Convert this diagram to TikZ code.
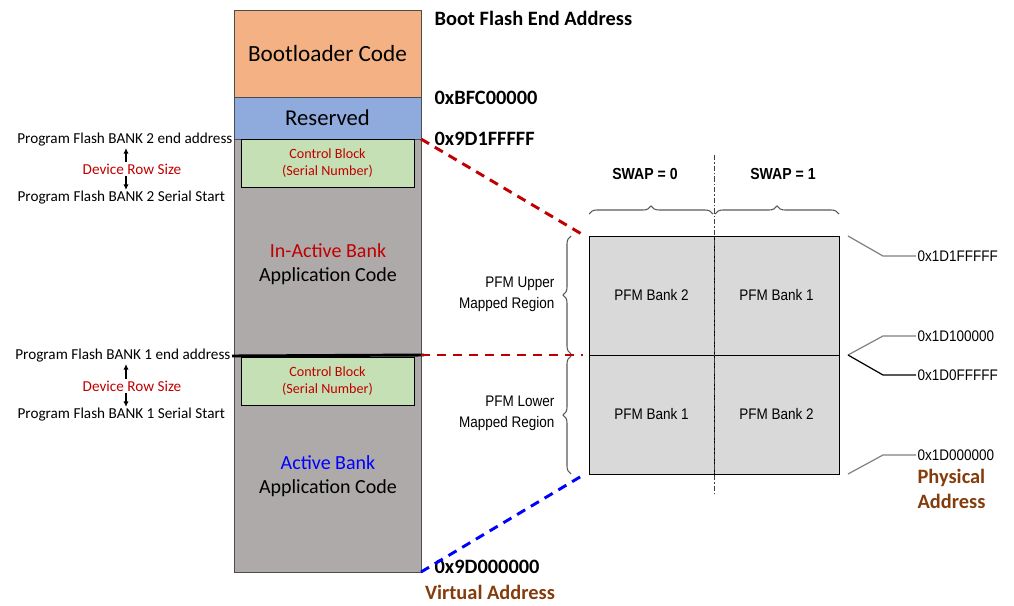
\documentclass[tikz,border=0pt]{standalone}
\usepackage{fontspec}
\setmainfont{Carlito}
\newfontfamily\narrowfont[FakeStretch=0.88]{Liberation Sans}
\usetikzlibrary{positioning,arrows.meta,decorations.pathreplacing}
\newdimen\px \px=0.75pt
\definecolor{bootorange}{HTML}{F4B183}
\definecolor{rsvdblue}{HTML}{8FAADC}
\definecolor{bankgray}{HTML}{AEAAAA}
\definecolor{ctrlgreen}{HTML}{C5E0B4}
\definecolor{cellgray}{HTML}{D9D9D9}
\definecolor{flashred}{HTML}{C00000}
\definecolor{flashblue}{HTML}{0000FF}
\definecolor{addrbrown}{HTML}{843C0C}
\tikzset{
  memblk/.style={rectangle, draw=gray!60!black, minimum width=187\px, inner sep=0pt, outer sep=0pt},
  ctrlblk/.style={rectangle, draw=black, fill=ctrlgreen, minimum width=173\px, minimum height=48\px,
    align=center, text=flashred, font=\fontsize{10.6}{13}\selectfont},
  sidelbl/.style={font=\fontsize{11.4}{13}\selectfont, inner sep=1pt},
  rowlbl/.style={sidelbl, text=flashred},
  banktxt/.style={align=center, font=\fontsize{15}{18}\selectfont},
  addrlbl/.style={font=\bfseries\fontsize{15.3}{18}\selectfont, anchor=west, inner sep=1pt},
  brownlbl/.style={font=\bfseries\fontsize{15.3}{18.5}\selectfont, text=addrbrown},
  cell/.style={rectangle, draw=black, fill=cellgray, minimum width=125\px, minimum height=119\px,
    outer sep=0pt, font=\narrowfont\fontsize{11.5}{14}\selectfont},
  pfm/.style={font=\narrowfont\fontsize{11.5}{15.5}\selectfont, align=right, anchor=east, inner sep=1pt},
  phys/.style={font=\narrowfont\fontsize{11.5}{14}\selectfont, anchor=west, inner sep=1pt},
  swaplbl/.style={font=\narrowfont\bfseries\fontsize{12}{14}\selectfont},
  callout/.style={draw=gray, line width=0.9pt},
  mapline/.style={line width=2.2pt, dash pattern=on 7pt off 5pt},
  brc/.style={decorate, decoration={brace, amplitude=6pt}, draw=gray!70!black, line width=0.8pt},
  rowarrow/.style={-{Latex[length=4pt,width=4pt]}, line width=0.8pt}
}
\begin{document}
\begin{tikzpicture}[x=0.75pt, y=-0.75pt]
\useasboundingbox (0,0) rectangle (1014,606);

% flash column
\node[memblk, fill=bootorange, minimum height=87\px, font=\fontsize{17.4}{20}\selectfont] (boot) at (327.5,53.5) {Bootloader Code};
\node[memblk, fill=rsvdblue, minimum height=42\px, below=0pt of boot, font=\fontsize{17}{20}\selectfont] (rsvd) {Reserved};
\node[memblk, fill=bankgray, minimum height=216\px, below=0pt of rsvd] (inact) {};
\node[memblk, fill=bankgray, minimum height=217\px, below=0pt of inact] (act) {};
\node[ctrlblk, below=0pt of rsvd] (ctrltwo) {Control Block\\(Serial Number)};
\node[ctrlblk, below=2\px of inact] (ctrlone) {Control Block\\(Serial Number)};
\node[banktxt] (inacttxt) at (328,264) {\textcolor{flashred}{In-Active Bank}\\Application Code};
\node[banktxt] (acttxt) at (328,476) {\textcolor{flashblue}{Active Bank}\\Application Code};

% bank labels on the left
\node[sidelbl, anchor=east] (twoend) at (234,140) {Program Flash BANK 2 end address};
\node[rowlbl] (rowtwo) at (132,169) {Device Row Size};
\node[sidelbl, anchor=west] (twostart) at (16,198) {Program Flash BANK 2 Serial Start};
\node[sidelbl, anchor=east] (oneend) at (232,356) {Program Flash BANK 1 end address};
\node[rowlbl] (rowone) at (132,386) {Device Row Size};
\node[sidelbl, anchor=west] (onestart) at (16,415) {Program Flash BANK 1 Serial Start};
\draw[rowarrow] ([xshift=-6\px]rowtwo.north) -- ([xshift=-6\px]twoend.south -| rowtwo.north);
\draw[rowarrow] ([xshift=-6\px]rowtwo.south) -- ([xshift=-6\px]twostart.north -| rowtwo.south);
\draw[rowarrow] ([xshift=-6\px]rowone.north) -- ([xshift=-6\px]oneend.south -| rowone.north);
\draw[rowarrow] ([xshift=-6\px]rowone.south) -- ([xshift=-6\px]onestart.north -| rowone.south);
\draw[line width=2.2pt] (oneend.east) -- ([xshift=3\px]act.north east);

% virtual addresses
\node[addrlbl] (bootend) at (433,18) {Boot Flash End Address};
\node[addrlbl] (bfc) at (433,98) {0xBFC00000};
\node[addrlbl] (vtop) at (433,139) {0x9D1FFFFF};
\node[addrlbl] (vbot) at (433,567) {0x9D000000};
\node[brownlbl] (virt) at (490,592) {Virtual Address};

% physical map
\node[cell] (ul) at (651.5,295.5) {PFM Bank 2};
\node[cell] (ur) at (776.5,295.5) {PFM Bank 1};
\node[cell] (ll) at (651.5,414.5) {PFM Bank 1};
\node[cell] (lr) at (776.5,414.5) {PFM Bank 2};
\coordinate (swtop) at (714,155);
\coordinate (swbot) at (714,495);
\draw[dash pattern=on 4pt off 1.5pt on 1pt off 1.5pt, gray!50!black, line width=0.6pt] (swtop) -- (swbot);

\node[swaplbl] (swapzero) at (645,174) {SWAP = 0};
\node[swaplbl] (swapone) at (783,174) {SWAP = 1};
\draw[brc] ([yshift=22\px]ul.north west) -- ([yshift=22\px,xshift=-1\px]ul.north east);
\draw[brc] ([yshift=22\px,xshift=1\px]ur.north west) -- ([yshift=22\px]ur.north east);
\draw[brc] ([xshift=-18\px,yshift=1\px]ul.south west) -- ([xshift=-18\px]ul.north west);
\draw[brc] ([xshift=-18\px]ll.south west) -- ([xshift=-18\px,yshift=-1\px]ll.north west);
\node[pfm] (upper) at (556,294) {PFM Upper\\Mapped Region};
\node[pfm] (lower) at (556,413) {PFM Lower\\Mapped Region};

% mapping lines
\draw[mapline, flashred] (rsvd.south east) -- ([xshift=-4\px]ul.north west);
\draw[mapline, flashred] (act.north east) -- ([xshift=-6\px]ll.north west);
\draw[mapline, flashblue] (act.south east) -- ([xshift=-4\px]ll.south west);

% physical addresses
\node[phys] (ptop) at (916,256) {0x1D1FFFFF};
\node[phys] (pmidhi) at (916,336) {0x1D100000};
\node[phys] (pmidlo) at (916,375) {0x1D0FFFFF};
\node[phys] (pbot) at (916,455) {0x1D000000};
\node[brownlbl, align=left, anchor=north west, inner sep=1pt] (physaddr) at (916,468) {Physical\\Address};
\draw[callout] ([xshift=9\px]ur.north east) -- (883,256) -- (ptop.west);
\draw[callout] ([xshift=9\px]lr.north east) -- (883,336) -- (pmidhi.west);
\draw[callout, draw=black] ([xshift=9\px]lr.north east) -- (883,375) -- (pmidlo.west);
\draw[callout] ([xshift=9\px]lr.south east) -- (883,455) -- (pbot.west);
\end{tikzpicture}
\end{document}
